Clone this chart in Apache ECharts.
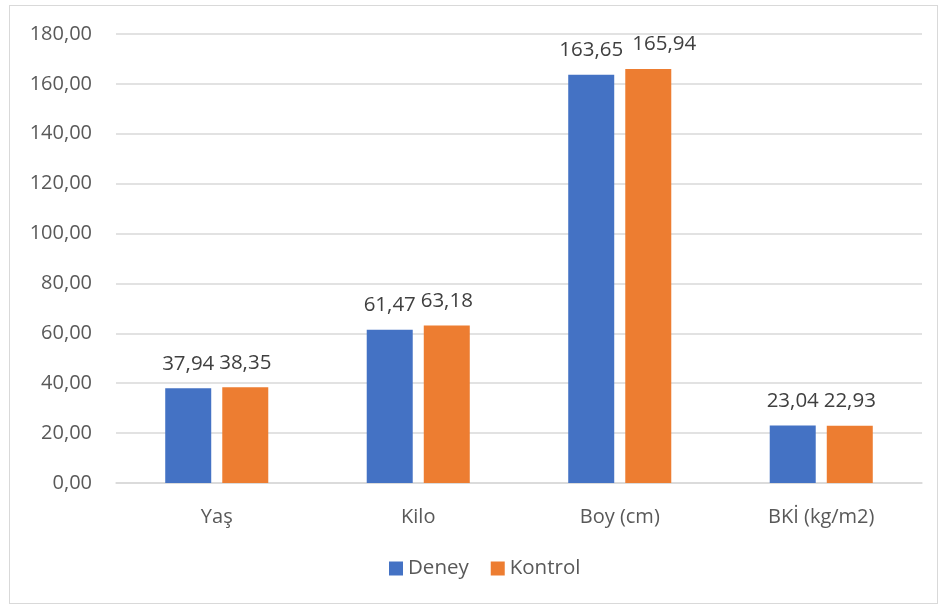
<!DOCTYPE html>
<html>
<head>
<meta charset="utf-8">
<script src="https://cdn.jsdelivr.net/npm/echarts@6/dist/echarts.min.js"></script>
<style>
  html, body { margin: 0; padding: 0; background: #fff; }
  #frame {
    position: absolute; left: 9px; top: 5px; width: 929px; height: 599px;
    border: 1px solid #d9d9d9; box-sizing: border-box;
  }
  #chart { position: absolute; left: 0; top: 0; width: 941px; height: 607px; }
</style>
</head>
<body>
<div id="frame"></div>
<div id="chart"></div>
<script>
const categories = ["Yaş", "Kilo", "Boy (cm)", "BKİ (kg/m2)"];
const deney = [37.94, 61.47, 163.65, 23.04];
const kontrol = [38.35, 63.18, 165.94, 22.93];
const seriesNames = ["Deney", "Kontrol"];
const colors = ["#4472C4", "#ED7D31"];

const fmt = (v) => v.toFixed(2).replace(".", ",");
const font = "'Open Sans', 'Noto Sans', sans-serif";

const chart = echarts.init(document.getElementById("chart"));

// Excel nudged the Kontrol label on "Boy" right so it does not collide
const labelShift = { Kontrol: { 2: [16, 0] } };

const makeSeries = (name, data, color) => ({
  name,
  type: "bar",
  data: data.map((v, i) => {
    const off = labelShift[name] && labelShift[name][i];
    return off ? { value: v, label: { offset: off } } : v;
  }),
  barWidth: 46,
  barGap: "24%",
  itemStyle: { color },
  label: {
    show: true,
    position: "top",
    distance: 14,
    color: "#404040",
    fontSize: 20.5,
    fontFamily: font,
    formatter: (p) => fmt(p.value)
  }
});

chart.setOption({
  animation: false,
  color: colors,
  grid: { left: 116, right: 19, top: 34, bottom: 124, containLabel: false },
  legend: {
    data: seriesNames,
    bottom: 23,
    left: 384,
    itemWidth: 14,
    itemHeight: 14,
    itemGap: 22,
    icon: "rect",
    textStyle: { color: "#595959", fontSize: 20.5, fontFamily: font }
  },
  xAxis: {
    type: "category",
    data: categories,
    axisLine: { lineStyle: { color: "#d9d9d9", width: 1.5 } },
    axisTick: { show: false },
    axisLabel: { color: "#595959", fontSize: 20, fontFamily: font, margin: 24 }
  },
  yAxis: {
    type: "value",
    min: 0,
    max: 180,
    interval: 20,
    axisLine: { show: false },
    axisTick: { show: false },
    splitLine: { lineStyle: { color: "#d9d9d9", width: 1.5 } },
    axisLabel: {
      color: "#595959", fontSize: 20, fontFamily: font, margin: 24,
      formatter: (v) => fmt(v)
    }
  },
  series: [
    makeSeries(seriesNames[0], deney, colors[0]),
    makeSeries(seriesNames[1], kontrol, colors[1])
  ]
});
</script>
</body>
</html>
